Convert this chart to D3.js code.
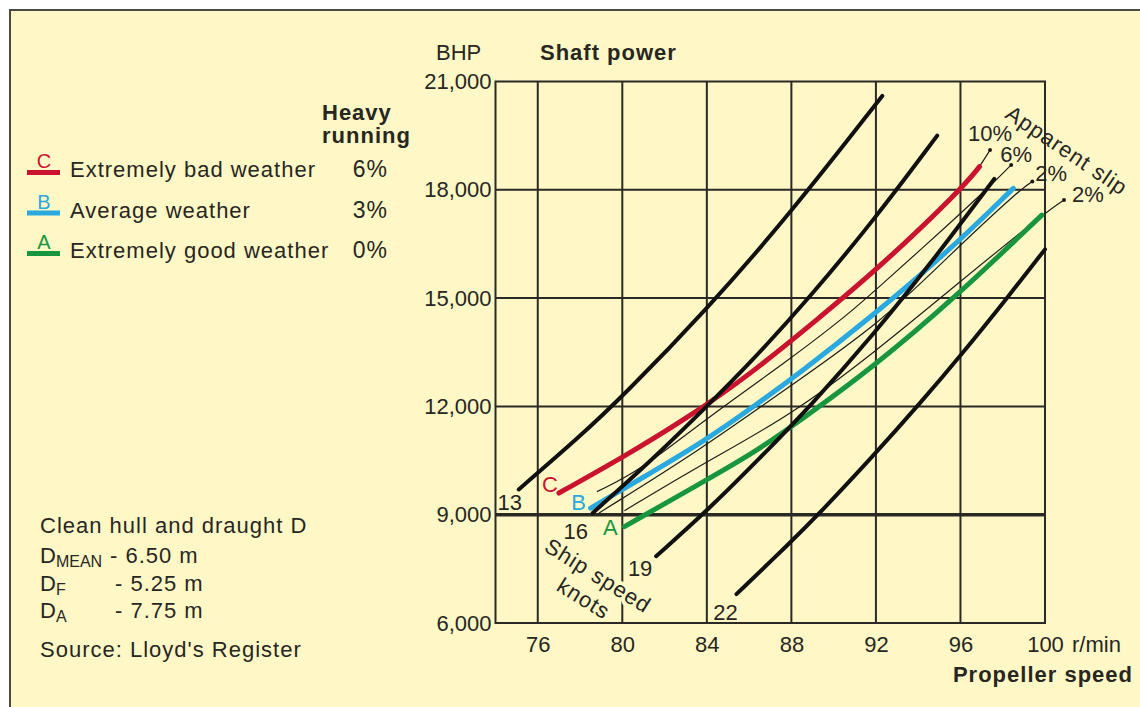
<!DOCTYPE html>
<html>
<head>
<meta charset="utf-8">
<script src="https://cdn.jsdelivr.net/npm/d3@7"></script>
<style>
  body { margin: 0; background: #ffffff; }
  svg text { font-family: "Liberation Sans", Arial, sans-serif; fill: #27261f; }
</style>
</head>
<body>
<svg id="chart"></svg>
<script>
// axis ticks
var xTicks = [76, 80, 84, 88, 92, 96, 100];
var yTicks = [6000, 9000, 12000, 15000, 18000, 21000];

// ship speed lines (knots), points are [r/min, BHP]
var speedLabels = ['13', '16', '19', '22'];
var speed13 = [[75.1, 9700], [78, 11170], [80, 12270], [84, 14680], [88, 17380], [92.3, 20600]];
var speed16 = [[78.6, 9050], [81.3, 10460], [84, 12000], [86, 13170], [88.9, 15040], [92, 17230], [94.9, 19500]];
var speed19 = [[81.6, 7850], [84, 9100], [86.5, 10560], [88.9, 12010], [91.9, 14000], [94.5, 15890], [97.6, 18300]];
var speed22 = [[85.4, 6800], [87.9, 8200], [89.4, 9080], [91.8, 10580], [94.2, 12160], [96, 13400], [98.3, 15070], [100, 16350]];

// heavy running curves
var curveNames = ['C', 'B', 'A'];
var curveWeather = ['Extremely bad weather', 'Average weather', 'Extremely good weather'];
var curveRunning = ['6%', '3%', '0%'];
var curveC = [[77, 9600], [80, 10580], [83, 11650], [86, 12860], [89.2, 14400], [92, 15760], [96, 17990], [96.9, 18640]];
var curveB = [[78.5, 9180], [80.8, 9970], [84, 11080], [86.2, 11990], [88.4, 12930], [91.7, 14440], [95.5, 16330], [98.5, 18040]];
var curveA = [[80.1, 8670], [84, 9970], [86.2, 10710], [88.4, 11600], [91.9, 13100], [95.8, 15040], [99.85, 17300]];

// apparent slip lines
var slipLabels = ['10%', '6%', '2%', '2%'];
var slip10 = [[96.9, 18640], [97.4, 19100]];
var slip6 = [[78.8, 9640], [80.8, 10200], [84, 11680], [87.9, 13290], [90.75, 14580], [92, 15230], [95.5, 17070], [97.7, 18270], [98.4, 18690]];
var slip2a = [[78.9, 9050], [83.7, 10800], [87.9, 12550], [92.2, 14300], [95.5, 16200], [98.8, 18000], [99.4, 18230]];
var slip2b = [[80.1, 9110], [83.7, 10380], [87.9, 11720], [91.9, 13480], [95.8, 15370], [99.85, 17300], [100.9, 17720]];

// draught notes
var draughtSubs = ['MEAN', 'F', 'A'];
var draughtValues = ['- 6.50 m', '- 5.25 m', '- 7.75 m'];

function main() {
    const width = 1140;
    const height = 707;
    const bg = '#fff8c6';
    const ink = '#27261f';
    const colors = ['#c9132f', '#2aa9e0', '#18963f'];
    const fontSize = 22;

    const svg = d3.select('#chart')
        .attr('width', width)
        .attr('height', height);

    // page frame
    svg.append('rect')
        .attr('x', 10).attr('y', 10)
        .attr('width', width).attr('height', height)
        .attr('fill', bg)
        .attr('stroke', '#4b4a42')
        .attr('stroke-width', 2);

    // scales
    var x = d3.scaleLinear().domain([74, 100]).range([495.5, 1045]);
    var y = d3.scaleLinear().domain([6000, 21000]).range([623, 81.5]);

    // grid
    svg.selectAll()
        .data(xTicks.filter(t => t < 100))
        .join('line')
        .attr('x1', d => x(d)).attr('x2', d => x(d))
        .attr('y1', y(6000)).attr('y2', y(21000))
        .attr('stroke', '#2a2924').attr('stroke-width', 2);

    svg.selectAll()
        .data(yTicks.filter(t => t > 6000 && t < 21000))
        .join('line')
        .attr('x1', x(74)).attr('x2', x(100))
        .attr('y1', d => y(d)).attr('y2', d => y(d))
        .attr('stroke', '#2a2924')
        .attr('stroke-width', d => d == 9000 ? 3.5 : 2);

    svg.append('rect')
        .attr('x', x(74)).attr('y', y(21000))
        .attr('width', x(100) - x(74)).attr('height', y(6000) - y(21000))
        .attr('fill', 'none')
        .attr('stroke', '#2a2924').attr('stroke-width', 2);

    // axes
    var xAxis = svg.append('g')
        .attr('transform', 'translate(0,' + y(6000) + ')')
        .call(d3.axisBottom(x).tickValues(xTicks).tickSize(0).tickPadding(13));
    var yAxis = svg.append('g')
        .attr('transform', 'translate(' + x(74) + ',0)')
        .call(d3.axisLeft(y).tickValues(yTicks).tickSize(0).tickPadding(4).tickFormat(d3.format(',')));
    [xAxis, yAxis].forEach(function(g) {
        g.select('.domain').remove();
        g.selectAll('text')
            .style('font-family', '"Liberation Sans", Arial, sans-serif')
            .style('font-size', fontSize + 'px')
            .attr('fill', ink);
    });

    svg.append('text')
        .attr('x', x(100) + 27).attr('y', y(6000) + 29)
        .style('font-size', fontSize + 'px')
        .text('r/min');
    svg.append('text')
        .attr('x', 1133).attr('y', 682)
        .attr('text-anchor', 'end')
        .style('font-size', '22px').style('font-weight', 'bold').style('letter-spacing', '1px')
        .text('Propeller speed');
    svg.append('text')
        .attr('x', 436).attr('y', 60)
        .style('font-size', '22px')
        .text('BHP');
    svg.append('text')
        .attr('x', 540).attr('y', 60)
        .style('font-size', '22px').style('font-weight', 'bold').style('letter-spacing', '1px')
        .text('Shaft power');

    var line = d3.line()
        .x(d => x(d[0]))
        .y(d => y(d[1]))
        .curve(d3.curveBasis);

    // apparent slip lines
    var slipLines = [slip10, slip6, slip2a, slip2b];
    var slipOffset = [[0, -9, 'middle'], [-11, -3, 'start'], [3, 0, 'start'], [8, 2, 'start']];
    slipLines.forEach(function(s, i) {
        svg.append('path')
            .attr('d', line(s))
            .attr('fill', 'none')
            .attr('stroke', '#1e1d18')
            .attr('stroke-width', 1.2);
        var end = s[s.length - 1];
        svg.append('circle')
            .attr('cx', x(end[0])).attr('cy', y(end[1])).attr('r', 2)
            .attr('fill', '#1e1d18');
        svg.append('text')
            .attr('x', x(end[0]) + slipOffset[i][0])
            .attr('y', y(end[1]) + slipOffset[i][1])
            .attr('text-anchor', slipOffset[i][2])
            .style('font-size', fontSize + 'px')
            .text(slipLabels[i]);
    });

    // heavy running curves
    var curves = [curveC, curveB, curveA];
    var curveOffset = [[-9, -1], [-12, 2], [-14, 8]];
    curves.forEach(function(c, i) {
        svg.append('path')
            .attr('d', line(c))
            .attr('fill', 'none')
            .attr('stroke', colors[i])
            .attr('stroke-width', 5)
            .attr('stroke-linecap', 'round');
        svg.append('text')
            .attr('x', x(c[0][0]) + curveOffset[i][0])
            .attr('y', y(c[0][1]) + curveOffset[i][1])
            .attr('text-anchor', 'middle')
            .style('fill', colors[i])
            .style('font-size', fontSize + 'px')
            .text(curveNames[i]);
    });

    // ship speed lines
    var speedLines = [speed13, speed16, speed19, speed22];
    var speedOffset = [[-9, 21], [-17, 26], [-16, 20], [-11, 26]];
    speedLines.forEach(function(s, i) {
        svg.append('path')
            .attr('d', line(s))
            .attr('fill', 'none')
            .attr('stroke', '#111')
            .attr('stroke-width', 4)
            .attr('stroke-linecap', 'round');
    });
    speedLines.forEach(function(s, i) {
        var t = svg.append('text')
            .attr('x', x(s[0][0]) + speedOffset[i][0])
            .attr('y', y(s[0][1]) + speedOffset[i][1])
            .attr('text-anchor', 'middle')
            .style('font-size', fontSize + 'px')
            .text(speedLabels[i]);
        if (speedLabels[i] == '19') {
            var b = t.node().getBBox();
            svg.insert('rect', function() { return t.node(); })
                .attr('x', b.x - 3).attr('y', b.y + 2)
                .attr('width', b.width + 6).attr('height', b.height)
                .attr('fill', bg);
        }
    });

    // rotated notes
    var ship = svg.append('g').attr('transform', 'translate(594,582) rotate(32)');
    ['Ship speed', 'knots'].forEach(function(txt, i) {
        ship.append('text')
            .attr('x', 0).attr('y', i * 27)
            .attr('text-anchor', 'middle')
            .style('font-size', fontSize + 'px').style('letter-spacing', '1px')
            .attr('stroke', bg).attr('stroke-width', 8).attr('paint-order', 'stroke')
            .text(txt);
    });
    svg.append('text')
        .attr('transform', 'translate(1004,117) rotate(34)')
        .style('font-size', fontSize + 'px').style('letter-spacing', '1px')
        .text('Apparent slip');

    // legend
    svg.append('text')
        .attr('x', 322).attr('y', 120)
        .style('font-size', '22px').style('font-weight', 'bold').style('letter-spacing', '1px')
        .text('Heavy');
    svg.append('text')
        .attr('x', 322).attr('y', 143)
        .style('font-size', '22px').style('font-weight', 'bold').style('letter-spacing', '1px')
        .text('running');

    curveNames.forEach(function(n, i) {
        var base = 177 + i * 40.5;
        svg.append('rect')
            .attr('x', 27).attr('y', base - 7)
            .attr('width', 33).attr('height', 5)
            .attr('fill', colors[i]);
        svg.append('text')
            .attr('x', 44).attr('y', base - 9)
            .attr('text-anchor', 'middle')
            .style('fill', colors[i])
            .style('font-size', '20px')
            .text(n);
        svg.append('text')
            .attr('x', 70).attr('y', base)
            .style('font-size', fontSize + 'px').style('letter-spacing', '1px')
            .text(curveWeather[i]);
        svg.append('text')
            .attr('x', 388).attr('y', base)
            .attr('text-anchor', 'end')
            .style('font-size', '23px').style('letter-spacing', '1px')
            .text(curveRunning[i]);
    });

    // draught notes
    svg.append('text')
        .attr('x', 40).attr('y', 533)
        .style('font-size', fontSize + 'px').style('letter-spacing', '1px')
        .text('Clean hull and draught D');
    draughtSubs.forEach(function(s, i) {
        var base = 563 + i * 27.5;
        var t = svg.append('text')
            .attr('x', 40).attr('y', base)
            .style('font-size', fontSize + 'px');
        t.append('tspan').text('D');
        t.append('tspan')
            .attr('dy', 4)
            .style('font-size', '16px')
            .text(s);
        svg.append('text')
            .attr('x', i == 0 ? 110 : 115).attr('y', base)
            .style('font-size', fontSize + 'px').style('letter-spacing', '1px')
            .text(draughtValues[i]);
    });
    svg.append('text')
        .attr('x', 40).attr('y', 657)
        .style('font-size', fontSize + 'px').style('letter-spacing', '1px')
        .text("Source: Lloyd's Register");
}

main();
</script>
</body>
</html>
